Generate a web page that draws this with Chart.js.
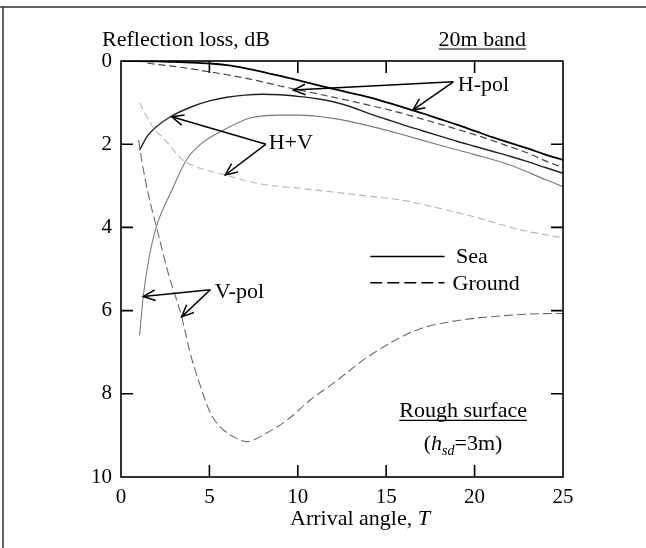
<!DOCTYPE html>
<html>
<head>
<meta charset="utf-8">
<script src="https://cdn.jsdelivr.net/npm/chart.js@4.4.1/dist/chart.umd.min.js"></script>
<style>
  html, body { margin: 0; padding: 0; background: #fff; }
  #wrap { width: 646px; height: 548px; position: relative; }
</style>
</head>
<body>
<div id="wrap"><canvas id="c" width="646" height="548"></canvas></div>
<script>
// Reflection loss (dB) versus arrival angle (deg), 20 m band, rough surface.
const seaHpolAngle  = [0, 1, 2, 3, 4, 5, 6, 7, 8, 9, 10, 11, 12, 13, 14, 14.6, 16, 17, 18, 19, 20, 21, 22, 23, 24, 25];
const seaHpolLoss   = [0, 0, 0.01, 0.02, 0.04, 0.06, 0.1, 0.17, 0.26, 0.36, 0.46, 0.57, 0.67, 0.77, 0.87, 0.94, 1.12, 1.25, 1.39, 1.53, 1.68, 1.83, 1.97, 2.1, 2.25, 2.38];

const groundHpolAngle = [1.5, 2, 3, 4, 5, 6, 7, 8, 9, 10, 11, 12, 13, 14, 15, 16, 17, 18, 19, 20, 21, 22, 23, 24, 25];
const groundHpolLoss  = [0.05, 0.08, 0.13, 0.19, 0.26, 0.33, 0.41, 0.5, 0.6, 0.69, 0.78, 0.87, 0.96, 1.06, 1.16, 1.27, 1.39, 1.51, 1.64, 1.77, 1.91, 2.06, 2.21, 2.4, 2.56];

const seaHVAngle = [1.05, 1.5, 2, 2.8, 4, 5, 6, 7, 8, 9, 10, 11, 12, 13, 14, 15, 16, 17, 18, 19, 20, 21, 22, 23, 24, 25];
const seaHVLoss  = [2.14, 1.8, 1.58, 1.34, 1.1, 0.96, 0.87, 0.82, 0.8, 0.81, 0.85, 0.9, 0.98, 1.1, 1.26, 1.4, 1.54, 1.67, 1.8, 1.93, 2.05, 2.17, 2.29, 2.42, 2.56, 2.7];

const groundHVAngle = [1.05, 1.8, 2.5, 3.5, 4.5, 5.9, 7.7, 10.1, 12, 14, 15.8, 17.6, 20, 22.6, 25];
const groundHVLoss  = [1.01, 1.58, 1.9, 2.38, 2.58, 2.74, 2.94, 3.06, 3.15, 3.25, 3.34, 3.5, 3.75, 4.06, 4.25];

const seaVpolAngle = [1.05, 1.26, 1.6, 2.0, 2.8, 3.7, 4.5, 5.8, 7.3, 9, 10, 12, 14.6, 16, 18, 20, 22, 24, 25];
const seaVpolLoss  = [6.6, 5.66, 4.7, 3.98, 3.18, 2.38, 2.0, 1.66, 1.37, 1.3, 1.3, 1.38, 1.62, 1.78, 2.02, 2.25, 2.5, 2.85, 3.02];

const groundVpolAngle = [1.0, 1.17, 1.53, 2.0, 2.67, 3.43, 3.9, 4.4, 5.1, 5.8, 6.35, 7.1, 8.2, 9.4, 10.7, 12, 14, 16.7, 18.6, 21.4, 24.4, 25];
const groundVpolLoss  = [1.9, 2.38, 3.18, 3.98, 5.1, 6.15, 7.0, 7.7, 8.5, 8.87, 9.03, 9.15, 8.95, 8.63, 8.15, 7.75, 7.1, 6.47, 6.27, 6.13, 6.07, 6.07];

const angleTicks = [0, 5, 10, 15, 20, 25];
const lossTicks  = [0, 2, 4, 6, 8, 10];

const SERIF = '"Liberation Serif", "Times New Roman", serif';
const FS = 22;

function pts(xs, ys) { return xs.map((x, i) => ({ x: x, y: ys[i] })); }

function series(xs, ys, color, width, dash) {
  return {
    data: pts(xs, ys),
    borderColor: color,
    borderWidth: width,
    borderDash: dash,
    pointRadius: 0,
    fill: false,
    cubicInterpolationMode: 'monotone'
  };
}

// Labels with arrows, placed in data units
const callouts = [
  { text: 'H-pol', x: 19.05, y: 0.58, from: [18.8, 0.5], to: [[9.75, 0.70], [16.5, 1.18]] },
  { text: 'H+V',   x: 8.35,  y: 1.98, from: [8.2, 2.0],  to: [[2.87, 1.34], [5.9, 2.74]] },
  { text: 'V-pol', x: 5.3,   y: 5.55, from: [5.05, 5.5], to: [[1.26, 5.66], [3.43, 6.15]] }
];

function arrow(ctx, x1, y1, x2, y2) {
  ctx.beginPath();
  ctx.moveTo(x1, y1);
  ctx.lineTo(x2, y2);
  ctx.stroke();
  const a = Math.atan2(y2 - y1, x2 - x1);
  const L = 13, h = 0.42;
  ctx.beginPath();
  ctx.moveTo(x2 - L * Math.cos(a - h), y2 - L * Math.sin(a - h));
  ctx.lineTo(x2, y2);
  ctx.lineTo(x2 - L * Math.cos(a + h), y2 - L * Math.sin(a + h));
  ctx.stroke();
}

const decor = {
  id: 'decor',
  afterDraw(chart) {
    const ctx = chart.ctx;
    const a = chart.chartArea;
    const xs = chart.scales.x, ys = chart.scales.y;
    const X = v => xs.getPixelForValue(v);
    const Y = v => ys.getPixelForValue(v);
    const font = (style) => (style ? style + ' ' : '') + FS + 'px ' + SERIF;
    ctx.save();

    // page frame (top and left rules)
    ctx.strokeStyle = '#333';
    ctx.lineWidth = 1.5;
    ctx.beginPath();
    ctx.moveTo(0, 7); ctx.lineTo(646, 7);
    ctx.moveTo(3, 7); ctx.lineTo(3, 548);
    ctx.stroke();

    // plot box
    ctx.strokeStyle = '#000';
    ctx.lineWidth = 1.6;
    ctx.strokeRect(a.left, a.top, a.right - a.left, a.bottom - a.top);

    // inward ticks on all four sides
    const tl = 12;
    ctx.beginPath();
    angleTicks.slice(1, -1).forEach(v => {
      const px = X(v);
      ctx.moveTo(px, a.bottom); ctx.lineTo(px, a.bottom - tl);
      ctx.moveTo(px, a.top); ctx.lineTo(px, a.top + tl);
    });
    lossTicks.slice(1, -1).forEach(v => {
      const py = Y(v);
      ctx.moveTo(a.left, py); ctx.lineTo(a.left + tl, py);
      ctx.moveTo(a.right, py); ctx.lineTo(a.right - tl, py);
    });
    ctx.stroke();

    ctx.fillStyle = '#000';
    ctx.textBaseline = 'alphabetic';
    ctx.font = font();

    // axis titles
    ctx.textAlign = 'left';
    ctx.fillText('Reflection loss, dB', a.left - 19, a.top - 15);
    const t1 = 'Arrival angle, ';
    const w1 = ctx.measureText(t1).width;
    ctx.font = font('italic');
    const w2 = ctx.measureText('T').width;
    const tx = (a.left + a.right) / 2 + 18 - (w1 + w2) / 2;
    ctx.font = font();
    ctx.fillText(t1, tx, a.bottom + 48);
    ctx.font = font('italic');
    ctx.fillText('T', tx + w1, a.bottom + 48);

    // band title, underlined
    ctx.font = font();
    ctx.textAlign = 'right';
    ctx.fillText('20m band', a.right - 37, a.top - 15);
    const wb = ctx.measureText('20m band').width;
    ctx.lineWidth = 1.2;
    ctx.beginPath();
    ctx.moveTo(a.right - 37 - wb, a.top - 12); ctx.lineTo(a.right - 37, a.top - 12);
    ctx.stroke();

    // callouts
    ctx.lineWidth = 1.5;
    ctx.strokeStyle = '#000';
    callouts.forEach(c => {
      ctx.textAlign = 'left';
      ctx.textBaseline = 'middle';
      ctx.font = font();
      ctx.fillText(c.text, X(c.x), Y(c.y));
      c.to.forEach(t => arrow(ctx, X(c.from[0]), Y(c.from[1]), X(t[0]), Y(t[1])));
    });

    // legend
    const lx1 = X(14.1), lx2 = X(18.3);
    ctx.lineWidth = 1.6;
    ctx.setLineDash([]);
    ctx.beginPath();
    ctx.moveTo(lx1, Y(4.7)); ctx.lineTo(lx2, Y(4.7));
    ctx.stroke();
    ctx.setLineDash([12, 5]);
    ctx.beginPath();
    ctx.moveTo(lx1, Y(5.33)); ctx.lineTo(lx2, Y(5.33));
    ctx.stroke();
    ctx.setLineDash([]);
    ctx.textBaseline = 'middle';
    ctx.textAlign = 'left';
    ctx.fillText('Sea', X(18.95), Y(4.72));
    ctx.fillText('Ground', X(18.75), Y(5.36));

    // surface note
    const cx = X(19.35);
    ctx.textAlign = 'center';
    ctx.textBaseline = 'alphabetic';
    ctx.fillText('Rough surface', cx, Y(8.55));
    const wr = ctx.measureText('Rough surface').width;
    ctx.lineWidth = 1.2;
    ctx.beginPath();
    ctx.moveTo(cx - wr / 2, Y(8.64)); ctx.lineTo(cx + wr / 2, Y(8.64));
    ctx.stroke();

    // (h_sd = 3m)
    const parts = [
      { s: '(', f: font(), dy: 0 },
      { s: 'h', f: font('italic'), dy: 0 },
      { s: 'sd', f: 'italic 14px ' + SERIF, dy: 5 },
      { s: '=3m)', f: font(), dy: 0 }
    ];
    let total = 0;
    parts.forEach(p => { ctx.font = p.f; p.w = ctx.measureText(p.s).width; total += p.w; });
    let px = cx - total / 2;
    const by = Y(9.35);
    ctx.textAlign = 'left';
    parts.forEach(p => { ctx.font = p.f; ctx.fillText(p.s, px, by + p.dy); px += p.w; });

    ctx.restore();
  }
};

new Chart(document.getElementById('c'), {
  type: 'line',
  data: {
    datasets: [
      series(groundHVAngle, groundHVLoss, '#b5b5b5', 1.1, [7, 4]),
      series(groundVpolAngle, groundVpolLoss, '#6a6a6a', 1.1, [9, 4]),
      series(seaVpolAngle, seaVpolLoss, '#7a7a7a', 1.1, []),
      series(groundHpolAngle, groundHpolLoss, '#444', 1.2, [7, 4]),
      series(seaHVAngle, seaHVLoss, '#222', 1.4, []),
      series(seaHpolAngle, seaHpolLoss, '#000', 1.8, [])
    ]
  },
  options: {
    responsive: false,
    animation: false,
    layout: { padding: { left: 0, right: 83, top: 61, bottom: 0 } },
    plugins: { legend: { display: false }, tooltip: { enabled: false } },
    scales: {
      x: {
        type: 'linear', min: 0, max: 25,
        afterBuildTicks(s) { s.ticks = angleTicks.map(v => ({ value: v })); },
        ticks: { color: '#000', font: { family: SERIF, size: 21 }, padding: 8, maxRotation: 0 },
        grid: { display: false, drawTicks: false },
        border: { display: false },
        afterFit(s) { s.height = 71; }
      },
      y: {
        type: 'linear', min: 0, max: 10, reverse: true,
        afterBuildTicks(s) { s.ticks = lossTicks.map(v => ({ value: v })); },
        ticks: { color: '#000', font: { family: SERIF, size: 21 }, padding: 9 },
        grid: { display: false, drawTicks: false },
        border: { display: false },
        afterFit(s) { s.width = 121; }
      }
    }
  },
  plugins: [decor]
});
</script>
</body>
</html>
